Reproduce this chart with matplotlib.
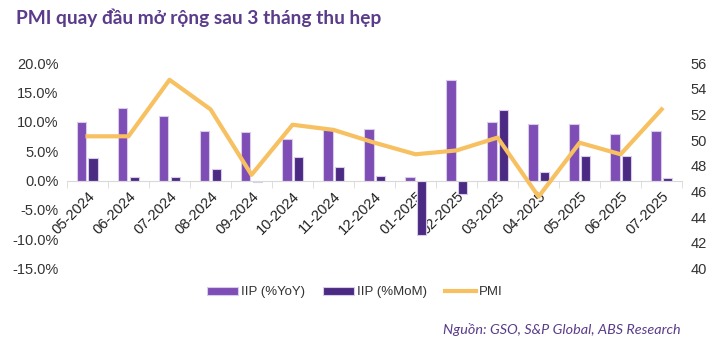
import matplotlib

matplotlib.use("Agg")
import matplotlib.pyplot as plt
import numpy as np
from matplotlib.ticker import FuncFormatter

months = [
    "05-2024", "06-2024", "07-2024", "08-2024", "09-2024", "10-2024", "11-2024",
    "12-2024", "01-2025", "02-2025", "03-2025", "04-2025", "05-2025", "06-2025", "07-2025",
]
iip_yoy = [10.0, 12.3, 11.0, 8.4, 8.3, 7.1, 8.6, 8.8, 0.6, 17.2, 10.0, 9.7, 9.6, 8.0, 8.5]
iip_mom = [3.8, 0.6, 0.6, 2.0, -0.3, 4.0, 2.3, 0.8, -9.3, -2.3, 12.0, 1.4, 4.2, 4.1, 0.5]
pmi = [50.3, 50.3, 54.7, 52.4, 47.3, 51.2, 50.8, 49.8, 48.9, 49.2, 50.2, 45.6, 49.8, 48.9, 52.4]

YOY_COLOR = "#7E4DB5"
MOM_COLOR = "#4A2A82"
PMI_COLOR = "#F7C061"
TEXT_COLOR = "#5A3C8A"
TICK_FONT = "Liberation Sans"

fig = plt.figure(figsize=(7.17, 3.43), dpi=100)
ax = fig.add_axes([0.0934, 0.217, 0.858, 0.599])
ax2 = ax.twinx()

x = np.arange(len(months))
width = 0.23
ax.bar(x - 0.14, iip_yoy, width, color=YOY_COLOR, edgecolor="#D9CCEB", linewidth=0.8,
       label="IIP (%YoY)", zorder=2)
ax.bar(x + 0.14, iip_mom, width, color=MOM_COLOR, edgecolor="#D9CCEB", linewidth=0.8,
       label="IIP (%MoM)", zorder=2)
ax2.plot(x, pmi, color=PMI_COLOR, linewidth=3, label="PMI", zorder=3)

ax.set_xlim(-0.5, len(months) - 0.5)
ax.set_ylim(-15, 20)
ax.set_yticks(np.arange(-15, 21, 5))
ax.yaxis.set_major_formatter(FuncFormatter(lambda v, p: f"{v:.1f}%"))
ax2.set_ylim(40, 56)
ax2.set_yticks(np.arange(40, 57, 2))

for a in (ax, ax2):
    for side in ("top", "left", "right"):
        a.spines[side].set_visible(False)
    a.spines["bottom"].set_visible(False)
    a.tick_params(axis="y", length=0, labelsize=10.5, colors="#333333", pad=6)
    for lbl in a.get_yticklabels():
        lbl.set_family(TICK_FONT)

ax.spines["bottom"].set_visible(True)
ax.spines["bottom"].set_position(("data", 0))
ax.spines["bottom"].set_color("#D9D9D9")
ax.set_xticks(x)
ax.set_xticklabels(months, rotation=45, ha="right", rotation_mode="anchor",
                   family=TICK_FONT, fontsize=10.5, color="#222222")
ax.tick_params(axis="x", which="major", length=0, pad=6)
ax.set_xticks(np.arange(-0.5, len(months), 1), minor=True)
ax.tick_params(axis="x", which="minor", length=5, color="#D9D9D9")

handles1, labels1 = ax.get_legend_handles_labels()
handles2, labels2 = ax2.get_legend_handles_labels()
leg = fig.legend(handles1 + handles2, labels1 + labels2, loc="center",
                 bbox_to_anchor=(0.495, 0.148), ncol=3, frameon=False,
                 handlelength=2.35, handleheight=0.55, columnspacing=1.4, handletextpad=0.2,
                 prop={"family": TICK_FONT, "size": 9.5})
for t in leg.get_texts():
    t.set_color("#333333")

fig.text(0.022, 0.948, "PMI quay đầu mở rộng sau 3 tháng thu hẹp", fontsize=13.8,
         fontweight="bold", family="Lato", color=TEXT_COLOR, va="center")
fig.text(0.949, 0.038, "Nguồn: GSO, S&P Global, ABS Research", fontsize=10.4,
         style="italic", family="Lato", color=TEXT_COLOR, ha="right", va="center")

fig.savefig("out.png", dpi=100)
